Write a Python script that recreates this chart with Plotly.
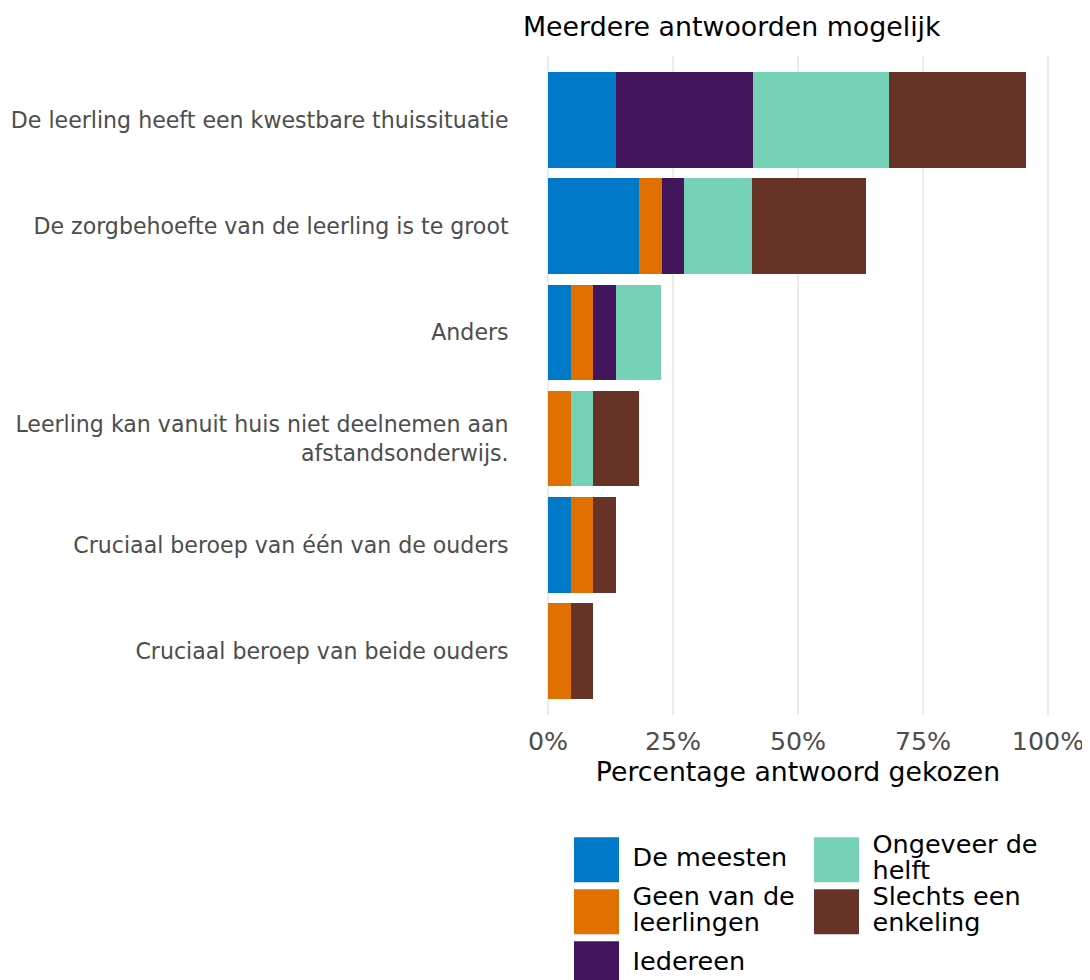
import plotly.graph_objects as go

# ---------------- data ----------------
categories = [
    "De leerling heeft een kwestbare thuissituatie",
    "De zorgbehoefte van de leerling is te groot",
    "Anders",
    "Leerling kan vanuit huis niet deelnemen aan<br>afstandsonderwijs.",
    "Cruciaal beroep van één van de ouders",
    "Cruciaal beroep van beide ouders",
]
series_names = ["De meesten", "Geen van de leerlingen", "Iedereen",
                "Ongeveer de helft", "Slechts een enkeling"]
de_meesten = [13.6, 18.2, 4.5, 0.0, 4.5, 0.0]
geen_van_de_leerlingen = [0.0, 4.5, 4.5, 4.5, 4.5, 4.5]
iedereen = [27.3, 4.5, 4.5, 0.0, 0.0, 0.0]
ongeveer_de_helft = [27.3, 13.6, 9.1, 4.5, 0.0, 0.0]
slechts_een_enkeling = [27.3, 22.7, 0.0, 9.1, 4.5, 4.5]
series_values = [de_meesten, geen_van_de_leerlingen, iedereen,
                 ongeveer_de_helft, slechts_een_enkeling]
colors = ["#0079C8", "#E07000", "#43155D", "#76D2B6", "#673327"]
legend_labels = ["De meesten", "Geen van de\nleerlingen", "Iedereen",
                 "Ongeveer de\nhelft", "Slechts een\nenkeling"]
x_tickvals = [0, 25, 50, 75, 100]
x_ticktext = ["0%", "25%", "50%", "75%", "100%"]

FONT = "DejaVu Sans"
OFF = 8                      # page body margin in the browser
W, H = 1090 - OFF, 980 - OFF
ML, MR, MT, MB = 523 - OFF, 17, 56 - OFF, 0
plot_h = H - MT - MB
plot_w = W - ML - MR

fig = go.Figure()

for name, vals, col in zip(series_names, series_values, colors):
    fig.add_trace(go.Bar(
        y=categories, x=vals, name=name, orientation="h",
        marker=dict(color=col, line=dict(width=0)),
        showlegend=False, xaxis="x", yaxis="y",
    ))

# ---------------- custom legend (keys + labels) ----------------
rows_per_col = 3
col_px = 240.0
row_px = 52.0
key_x0_px = 73.5       # first key centre, px from plot-area left
key_y0_px = 29.7       # first key centre, px from legend-area top
legend_top_px = 830 - OFF
legend_h_px = H - MB - legend_top_px
text_off = 36.0 / col_px
line_step = 26.0 / row_px

for i, (lab, col) in enumerate(zip(legend_labels, colors)):
    c, r = i // rows_per_col, i % rows_per_col
    fig.add_trace(go.Scatter(
        x=[c], y=[r], mode="markers",
        marker=dict(symbol="square", size=45, color=col, line=dict(width=0)),
        cliponaxis=False, showlegend=False, hoverinfo="skip",
        xaxis="x2", yaxis="y2",
    ))
    lines = lab.split("\n")
    n = len(lines)
    fig.add_trace(go.Scatter(
        x=[c + text_off] * n,
        y=[r + (j - (n - 1) / 2) * line_step for j in range(n)],
        mode="text", text=lines, textposition="middle right",
        textfont=dict(family=FONT, size=25.5, color="#000000"),
        cliponaxis=False, showlegend=False, hoverinfo="skip",
        xaxis="x2", yaxis="y2",
    ))

main_bottom = (H - MB - (715 - OFF)) / plot_h

fig.update_layout(
    width=W, height=H,
    margin=dict(l=ML, r=MR, t=MT, b=MB, pad=0),
    paper_bgcolor="white", plot_bgcolor="white",
    barmode="stack", bargap=0.1,
    font=dict(family=FONT, color="#000000"),
    title=dict(text="Meerdere antwoorden mogelijk", x=0, xref="paper",
               xanchor="left", y=1 - (27 - OFF) / H, yref="container",
               yanchor="middle",
               font=dict(family=FONT, size=26.8, color="#000000")),
    xaxis=dict(
        domain=[0, 1], anchor="y", range=[-5, 105],
        tickvals=x_tickvals, ticktext=x_ticktext,
        showgrid=True, gridcolor="#EBEBEB", gridwidth=2.2,
        zeroline=False, showline=False,
        ticks="outside", ticklen=4, tickcolor="rgba(0,0,0,0)",
        tickfont=dict(family=FONT, size=25.3, color="#4D4D4D"),
        title=dict(text="Percentage antwoord gekozen", standoff=6,
                   font=dict(family=FONT, size=26.7, color="#000000")),
    ),
    yaxis=dict(
        domain=[main_bottom, 1], anchor="x", type="category",
        categoryorder="array", categoryarray=categories,
        range=[5.6, -0.6],
        showgrid=False, zeroline=False, showline=False,
        ticks="outside", ticklen=9, tickcolor="rgba(0,0,0,0)",
        tickfont=dict(family=FONT, size=22.1, color="#4D4D4D"),
    ),
    xaxis2=dict(
        domain=[0, 1], anchor="y2",
        range=[-key_x0_px / col_px, (plot_w - key_x0_px) / col_px],
        visible=False, fixedrange=True,
    ),
    yaxis2=dict(
        domain=[0, legend_h_px / plot_h], anchor="x2",
        range=[(legend_h_px - key_y0_px) / row_px, -key_y0_px / row_px],
        visible=False, fixedrange=True,
    ),
)

fig.write_html("out.html")
